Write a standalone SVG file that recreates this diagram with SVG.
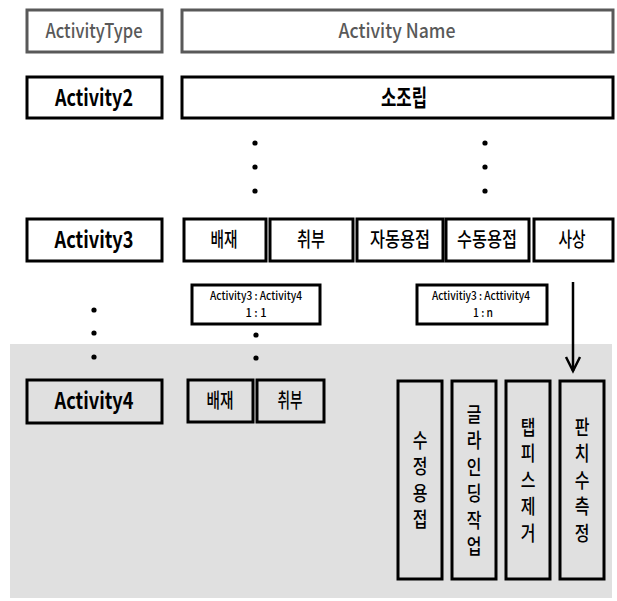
<svg xmlns="http://www.w3.org/2000/svg" width="617" height="601" viewBox="0 0 617 601">
  <defs>
    <style>
      .box { fill: none; stroke: #000; stroke-width: 3; }
      .hdr { fill: #fff; stroke: #595959; stroke-width: 3; }
      .t { font-family: "Noto Sans CJK KR", "Noto Sans", sans-serif; text-anchor: middle; fill: #000; }
      .th { font-size: 20px; font-weight: 500; fill: #595959; }
      .tb { font-size: 23px; font-weight: bold; }
      .tk { font-size: 20px; font-weight: 500; }
      .ts { font-size: 11.5px; font-weight: 500; }
      .dot { fill: #000; }
      .link { stroke: #000; stroke-width: 2.5; fill: none; }
    </style>
  </defs>

  <rect width="617" height="601" fill="#fff"/>
  <!-- shaded Activity4 band -->
  <rect id="level4-band" x="10" y="344" width="602" height="254" fill="#e0e0e0"/>

  <!-- header row -->
  <g id="hdr-type">
    <rect class="hdr" x="27" y="10" width="135" height="42"/>
    <text class="t th" x="94" y="38" textLength="97" lengthAdjust="spacingAndGlyphs">ActivityType</text>
  </g>
  <g id="hdr-name">
    <rect class="hdr" x="182" y="10" width="431" height="42"/>
    <text class="t th" x="397" y="38" textLength="117" lengthAdjust="spacingAndGlyphs">Activity Name</text>
  </g>

  <!-- Activity2 -->
  <g id="a2-type">
    <rect class="box" x="27" y="77" width="135" height="41"/>
    <text class="t tb" x="94" y="106" textLength="78" lengthAdjust="spacingAndGlyphs">Activity2</text>
  </g>
  <g id="a2-subassembly">
    <rect class="box" x="182" y="77" width="431" height="41"/>
    <text class="t" x="404" y="106" font-size="23" font-weight="bold" textLength="46" lengthAdjust="spacingAndGlyphs">소조립</text>
  </g>

  <!-- Activity3 -->
  <g id="a3-type">
    <rect class="box" x="27" y="219" width="135" height="42"/>
    <text class="t tb" x="94" y="248" textLength="79" lengthAdjust="spacingAndGlyphs">Activity3</text>
  </g>
  <g id="a3-baejae">
    <rect class="box" x="184" y="219" width="82" height="42"/>
    <text class="t tk" x="224" y="247" textLength="27" lengthAdjust="spacingAndGlyphs">배재</text>
  </g>
  <g id="a3-chwibu">
    <rect class="box" x="270" y="219" width="83" height="42"/>
    <text class="t tk" x="311" y="247" textLength="28" lengthAdjust="spacingAndGlyphs">취부</text>
  </g>
  <g id="a3-autoweld">
    <rect class="box" x="357" y="219" width="86" height="42"/>
    <text class="t tk" x="400" y="247" textLength="60" lengthAdjust="spacingAndGlyphs">자동용접</text>
  </g>
  <g id="a3-manualweld">
    <rect class="box" x="446" y="219" width="83" height="42"/>
    <text class="t tk" x="487" y="247" textLength="60" lengthAdjust="spacingAndGlyphs">수동용접</text>
  </g>
  <g id="a3-finish">
    <rect class="box" x="534" y="219" width="79" height="42"/>
    <text class="t tk" x="572" y="247" textLength="27" lengthAdjust="spacingAndGlyphs">사상</text>
  </g>

  <!-- mapping notes -->
  <g id="map-1to1">
    <rect class="box" x="192" y="285" width="128" height="39" fill="#fff"/>
    <text class="t ts" x="256" y="300" textLength="92" lengthAdjust="spacingAndGlyphs">Activity3 : Activity4</text>
    <text class="t ts" x="256" y="317" textLength="21" lengthAdjust="spacingAndGlyphs">1 : 1</text>
  </g>
  <g id="map-1ton">
    <rect class="box" x="417" y="285" width="130" height="39" fill="#fff"/>
    <text class="t ts" x="481" y="300" textLength="98" lengthAdjust="spacingAndGlyphs">Activitiy3 : Acttivity4</text>
    <text class="t ts" x="483" y="317" textLength="20" lengthAdjust="spacingAndGlyphs">1 : n</text>
  </g>

  <!-- Activity4 -->
  <g id="a4-type">
    <rect class="box" x="27" y="380" width="135" height="43"/>
    <text class="t tb" x="94" y="409" textLength="79" lengthAdjust="spacingAndGlyphs">Activity4</text>
  </g>
  <g id="a4-baejae">
    <rect class="box" x="188" y="380" width="65" height="42"/>
    <text class="t tk" x="220" y="408" textLength="27" lengthAdjust="spacingAndGlyphs">배재</text>
  </g>
  <g id="a4-chwibu">
    <rect class="box" x="257" y="380" width="67" height="42"/>
    <text class="t tk" x="290" y="408" textLength="25" lengthAdjust="spacingAndGlyphs">취부</text>
  </g>

  <g id="a4-repairweld">
    <rect class="box" x="398" y="381" width="44" height="198"/>
    <g transform="translate(420 0) scale(0.8 1)">
      <text class="t tk" x="0"><tspan x="0" y="448">수</tspan><tspan x="0" y="474.5">정</tspan><tspan x="0" y="501">용</tspan><tspan x="0" y="527.5">접</tspan></text>
    </g>
  </g>
  <g id="a4-grinding">
    <rect class="box" x="452" y="381" width="44" height="198"/>
    <g transform="translate(474 0) scale(0.8 1)">
      <text class="t tk" x="0"><tspan x="0" y="422">글</tspan><tspan x="0" y="448.5">라</tspan><tspan x="0" y="475">인</tspan><tspan x="0" y="501.5">딩</tspan><tspan x="0" y="528">작</tspan><tspan x="0" y="554.5">업</tspan></text>
    </g>
  </g>
  <g id="a4-tabremoval">
    <rect class="box" x="506" y="381" width="44" height="198"/>
    <g transform="translate(528 0) scale(0.8 1)">
      <text class="t tk" x="0"><tspan x="0" y="435">탭</tspan><tspan x="0" y="461.5">피</tspan><tspan x="0" y="488">스</tspan><tspan x="0" y="514.5">제</tspan><tspan x="0" y="541">거</tspan></text>
    </g>
  </g>
  <g id="a4-measure">
    <rect class="box" x="560" y="381" width="44" height="198"/>
    <g transform="translate(582 0) scale(0.8 1)">
      <text class="t tk" x="0"><tspan x="0" y="435">판</tspan><tspan x="0" y="461.5">치</tspan><tspan x="0" y="488">수</tspan><tspan x="0" y="514.5">측</tspan><tspan x="0" y="541">정</tspan></text>
    </g>
  </g>

  <!-- connectors: ellipsis dots and the 사상 arrow -->
  <g id="connectors">
    <circle class="dot" cx="255" cy="143" r="2.6"/>
    <circle class="dot" cx="255" cy="167" r="2.6"/>
    <circle class="dot" cx="255" cy="191" r="2.6"/>
    <circle class="dot" cx="485" cy="143" r="2.6"/>
    <circle class="dot" cx="485" cy="167" r="2.6"/>
    <circle class="dot" cx="485" cy="191" r="2.6"/>
    <circle class="dot" cx="94" cy="310" r="2.6"/>
    <circle class="dot" cx="94" cy="333" r="2.6"/>
    <circle class="dot" cx="94" cy="357" r="2.6"/>
    <circle class="dot" cx="256" cy="335" r="2.6"/>
    <circle class="dot" cx="256" cy="358" r="2.6"/>
    <line class="link" x1="573" y1="282" x2="573" y2="371"/>
    <polyline class="link" points="566,357 573,371 580,357"/>
  </g>
</svg>
